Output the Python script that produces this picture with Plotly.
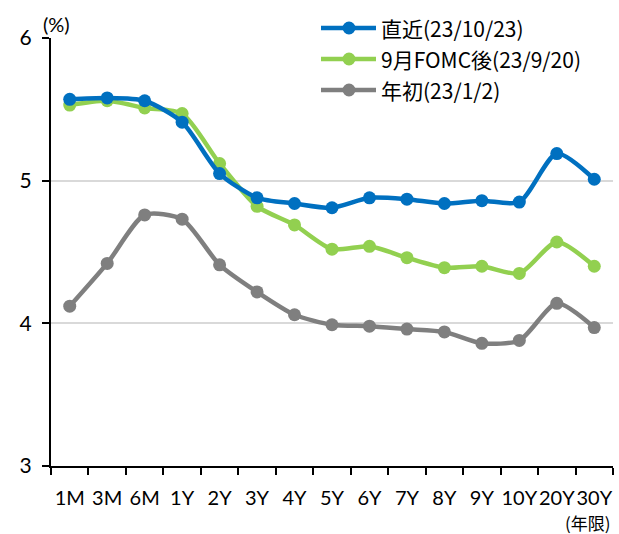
import plotly.graph_objects as go

# Tenors and yields (%)
tenors = ["1M", "3M", "6M", "1Y", "2Y", "3Y", "4Y", "5Y", "6Y", "7Y", "8Y", "9Y", "10Y", "20Y", "30Y"]
latest = [5.57, 5.58, 5.56, 5.41, 5.05, 4.88, 4.84, 4.81, 4.88, 4.87, 4.84, 4.86, 4.85, 5.19, 5.01]
after_fomc = [5.53, 5.56, 5.51, 5.47, 5.12, 4.82, 4.69, 4.52, 4.54, 4.46, 4.39, 4.40, 4.35, 4.57, 4.40]
year_start = [4.12, 4.42, 4.76, 4.73, 4.41, 4.22, 4.06, 3.99, 3.98, 3.96, 3.94, 3.86, 3.88, 4.14, 3.97]

series_names = ["直近(23/10/23)", "9月FOMC後(23/9/20)", "年初(23/1/2)"]
series_values = [latest, after_fomc, year_start]
series_colors = ["#0070C0", "#92D050", "#7F7F7F"]

y_ticks = [3, 4, 5, 6]

W, H = 619, 534
L, R, T, B = 51, 6, 38, 68
PW, PH = W - L - R, H - T - B

LATIN = "Lato, 'Noto Sans CJK JP', sans-serif"
CJK = "'Noto Sans CJK JP', sans-serif"


def px_x(px):
    return (px - L) / PW


def px_y(py):
    return (H - B - py) / PH


xs = list(range(len(tenors)))
bounds = [i - 0.5 for i in range(len(tenors) + 1)]

fig = go.Figure()
# draw grey first so blue ends on top
for name, vals, col in reversed(list(zip(series_names, series_values, series_colors))):
    fig.add_trace(go.Scatter(
        x=xs, y=vals, name=name, mode="lines+markers",
        line=dict(color=col, width=4.5, shape="spline", smoothing=0.7),
        marker=dict(color=col, size=13),
        showlegend=False, cliponaxis=False,
    ))

fig.update_layout(
    width=W, height=H,
    margin=dict(l=L, r=R, t=T, b=B, autoexpand=False),
    plot_bgcolor="white", paper_bgcolor="white",
    showlegend=False,
    font=dict(family=LATIN, size=18, color="black"),
    xaxis=dict(
        range=[-0.5, len(tenors) - 0.5], tickvals=xs, ticktext=tenors,
        ticks="", showgrid=False, zeroline=False, tickangle=0, automargin=False,
        showline=True, linecolor="black", linewidth=2,
        tickfont=dict(size=20), ticklabelstandoff=13,
        minor=dict(tickvals=bounds, ticks="outside", ticklen=7, tickwidth=2,
                   tickcolor="black", showgrid=False),
    ),
    xaxis2=dict(
        overlaying="x", anchor="y", range=[-0.5, len(tenors) - 0.5],
        tickvals=bounds, ticks="inside", ticklen=7, tickwidth=2, tickcolor="black",
        showticklabels=False, showgrid=False, showline=False, zeroline=False,
    ),
    yaxis=dict(
        range=[3, 6], tickvals=y_ticks, ticks="outside", ticklen=7, tickwidth=2,
        tickcolor="black", showline=True, linecolor="black", linewidth=2,
        showgrid=True, gridcolor="#D9D9D9", gridwidth=1.5, zeroline=False,
        tickfont=dict(size=21), ticklabelstandoff=6, automargin=False,
    ),
    yaxis2=dict(
        overlaying="y", anchor="x", side="left", range=[3, 6], tickvals=y_ticks,
        ticks="inside", ticklen=7, tickwidth=2, tickcolor="black",
        showticklabels=False, showgrid=False, showline=False, zeroline=False,
    ),
)

shapes = [
    # white backing behind the legend
    dict(type="rect", xref="paper", yref="paper",
         x0=px_x(297), x1=1.0, y0=px_y(104), y1=px_y(8),
         fillcolor="white", line=dict(width=0), layer="above"),
]
annotations = []
rows = [28, 59, 90]
for name, col, ry in zip(series_names, series_colors, rows):
    shapes.append(dict(type="line", xref="paper", yref="paper",
                       x0=px_x(321), x1=px_x(376), y0=px_y(ry), y1=px_y(ry),
                       line=dict(color=col, width=4.5), layer="above"))
    shapes.append(dict(type="circle", xref="paper", yref="paper",
                       xsizemode="pixel", ysizemode="pixel",
                       xanchor=px_x(349), yanchor=px_y(ry),
                       x0=-6.5, x1=6.5, y0=-6.5, y1=6.5,
                       fillcolor=col, line=dict(width=0), layer="above"))
    annotations.append(dict(text=name, xref="paper", yref="paper",
                            x=px_x(379), y=px_y(ry), xanchor="left", yanchor="middle",
                            showarrow=False, font=dict(family=CJK, size=21, color="black")))

annotations.append(dict(text="(%)", xref="paper", yref="paper",
                        x=px_x(56), y=px_y(24), xanchor="center", yanchor="middle",
                        showarrow=False, font=dict(family=LATIN, size=20)))
annotations.append(dict(text="(年限)", xref="paper", yref="paper",
                        x=px_x(588), y=px_y(522), xanchor="center", yanchor="middle",
                        showarrow=False, font=dict(family=CJK, size=17)))

fig.update_layout(shapes=shapes, annotations=annotations)
fig.write_html("out.html")
